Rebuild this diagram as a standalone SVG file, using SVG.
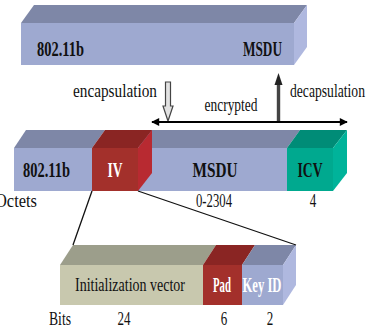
<svg xmlns="http://www.w3.org/2000/svg" width="368" height="329" viewBox="0 0 368 329">
  <style>
    text { font-family: "Liberation Serif", "Times New Roman", serif; fill: #111; }
    .b { font-weight: bold; font-size: 21px; }
    .w { fill: #fff; }
    .r { font-size: 19px; }
    .blueF { fill: #9ea9d0; }
    .blueT { fill: #7e87a7; }
    .blueR { fill: #afb8df; }
    .redF { fill: #a3302b; }
    .redT { fill: #8a2523; }
    .redR { fill: #b82a31; }
    .grnF { fill: #00a98f; }
    .grnT { fill: #008c77; }
    .grnR { fill: #00b39a; }
    .begF { fill: #c8c8ae; }
    .begT { fill: #9c9e8b; }
    .ln { stroke: #111; stroke-width: 1.3; fill: none; }
  </style>
  <defs>
    <marker id="ah" viewBox="0 0 10 10" refX="9" refY="5" markerWidth="10" markerHeight="8" markerUnits="userSpaceOnUse" orient="auto-start-reverse">
      <path d="M0,0 L10,5 L0,10 Z" fill="#000"/>
    </marker>
  </defs>

  <rect width="368" height="329" fill="#fff"/>

  <!-- upper MSDU frame -->
  <g id="frame-top">
    <polygon class="blueT" points="21,23 34,5 307,5 294,23"/>
    <polygon class="blueR" points="294,23 307,5 307,47 294,65"/>
    <rect class="blueF" x="21" y="23" width="273" height="42"/>
    <text class="b" x="37" y="56" textLength="47" lengthAdjust="spacingAndGlyphs">802.11b</text>
    <text class="b" x="243" y="56" textLength="39" lengthAdjust="spacingAndGlyphs">MSDU</text>
  </g>

  <!-- encrypted frame -->
  <g id="seg-header">
    <polygon class="blueT" points="14,148 26,130 105,130 92,148"/>
    <rect class="blueF" x="14" y="148" width="78" height="43"/>
    <text class="b" x="23" y="177" textLength="47" lengthAdjust="spacingAndGlyphs">802.11b</text>
  </g>
  <g id="seg-msdu">
    <polygon class="blueT" points="138,148 150,130 300,130 287,148"/>
    <rect class="blueF" x="138" y="148" width="149" height="43"/>
    <text class="b" x="215" y="177" text-anchor="middle" textLength="45" lengthAdjust="spacingAndGlyphs">MSDU</text>
  </g>
  <g id="seg-icv">
    <polygon class="grnT" points="287,148 300,130 347,130 333,148"/>
    <polygon class="grnR" points="333,148 347,130 347,173 333,191"/>
    <rect class="grnF" x="287" y="148" width="46" height="43"/>
    <text class="b" x="310" y="177" text-anchor="middle" textLength="25" lengthAdjust="spacingAndGlyphs">ICV</text>
  </g>
  <g id="seg-iv">
    <polygon class="redT" points="92,148 105,130 152,130 138,148"/>
    <polygon class="redR" points="138,148 152,130 152,173 138,191"/>
    <rect class="redF" x="92" y="148" width="46" height="43"/>
    <text class="b w" x="115" y="177" text-anchor="middle" textLength="15" lengthAdjust="spacingAndGlyphs">IV</text>
  </g>

  <!-- IV breakdown -->
  <g id="iv-vector">
    <polygon class="begT" points="60,265 73,245 216,245 203,265"/>
    <rect class="begF" x="60" y="265" width="143" height="40"/>
    <text class="r" x="130" y="291" text-anchor="middle" textLength="110" lengthAdjust="spacingAndGlyphs">Initialization vector</text>
  </g>
  <g id="iv-pad">
    <polygon class="redT" points="203,265 216,245 255,245 242,265"/>
    <rect class="redF" x="203" y="265" width="39" height="40"/>
    <text class="b w" x="222" y="292" text-anchor="middle" textLength="18" lengthAdjust="spacingAndGlyphs">Pad</text>
  </g>
  <g id="iv-keyid">
    <polygon class="blueT" points="242,265 255,245 296,245 283,265"/>
    <polygon class="blueR" points="283,265 296,245 296,285 283,305"/>
    <rect class="blueF" x="242" y="265" width="41" height="40"/>
    <text class="b w" x="262" y="292" text-anchor="middle" textLength="39" lengthAdjust="spacingAndGlyphs">Key ID</text>
  </g>

  <!-- field sizes -->
  <g id="labels">
    <text class="r" x="73" y="97" textLength="84" lengthAdjust="spacingAndGlyphs">encapsulation</text>
    <text class="r" x="290" y="97" textLength="75" lengthAdjust="spacingAndGlyphs">decapsulation</text>
    <text class="r" x="231" y="111" text-anchor="middle" textLength="53" lengthAdjust="spacingAndGlyphs">encrypted</text>
    <text class="r" x="-5" y="207" textLength="42" lengthAdjust="spacingAndGlyphs">Octets</text>
    <text class="r" x="214" y="207" text-anchor="middle" textLength="36" lengthAdjust="spacingAndGlyphs">0-2304</text>
    <text class="r" x="313" y="207" text-anchor="middle" textLength="6.5" lengthAdjust="spacingAndGlyphs">4</text>
    <text class="r" x="49" y="325" textLength="22" lengthAdjust="spacingAndGlyphs">Bits</text>
    <text class="r" x="124" y="325" text-anchor="middle" textLength="13" lengthAdjust="spacingAndGlyphs">24</text>
    <text class="r" x="224" y="325" text-anchor="middle" textLength="6.5" lengthAdjust="spacingAndGlyphs">6</text>
    <text class="r" x="270" y="325" text-anchor="middle" textLength="6.5" lengthAdjust="spacingAndGlyphs">2</text>
  </g>

  <g id="connectors">
    <!-- hollow encapsulation arrow -->
    <path d="M165.5,82 H170.5 V106 H173 L168,121 L163,106 H165.5 Z" fill="#e2e2e2" stroke="#444" stroke-width="1.2"/>
    <!-- solid decapsulation arrow -->
    <line x1="278.5" y1="122" x2="278.5" y2="82" stroke="#444" stroke-width="3.4"/>
    <path d="M274.5,85 L278.5,73 L282.5,85 Z" fill="#222"/>
    <!-- encrypted span -->
    <line x1="152" y1="122" x2="347" y2="122" stroke="#000" stroke-width="2" marker-start="url(#ah)" marker-end="url(#ah)"/>
    <!-- IV expansion lines -->
    <line class="ln" x1="92" y1="191" x2="73" y2="245"/>
    <line class="ln" x1="138" y1="191" x2="296" y2="245"/>
  </g>
</svg>
